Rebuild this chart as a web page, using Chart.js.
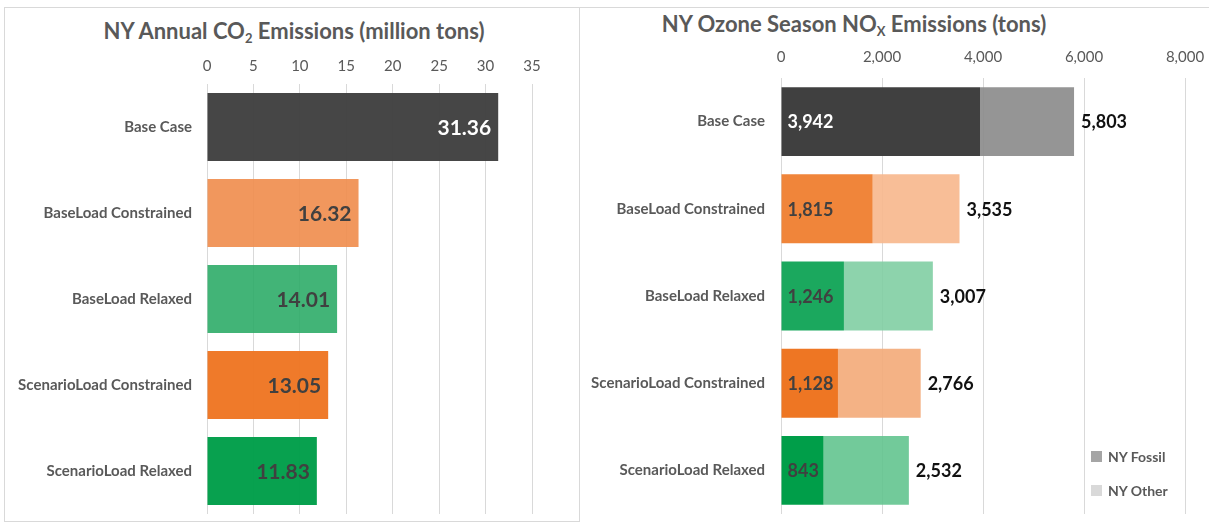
<!DOCTYPE html>
<html>
<head>
<meta charset="utf-8">
<script src="https://cdn.jsdelivr.net/npm/chart.js@4.4.0/dist/chart.umd.min.js"></script>
<style>
  html, body { margin: 0; padding: 0; background: #fff; }
  body { width: 1209px; height: 527px; position: relative; overflow: hidden; font-family: Lato, "Open Sans", sans-serif; }
  .panel-left { position: absolute; left: 4px; top: 7px; width: 576px; height: 515px; border: 1px solid #d9d9d9; box-sizing: border-box; }
  .panel-right { position: absolute; left: 580px; top: 7px; width: 640px; height: 1px; background: #d9d9d9; }
  .title { position: absolute; font-weight: bold; font-size: 22px; color: #595959; white-space: nowrap; transform: translateX(-50%); }
  .title sub { font-size: 13px; vertical-align: -4px; line-height: 0; }
  canvas { position: absolute; top: 0; }
  .legend { position: absolute; left: 1091px; top: 439px; font-size: 14px; font-weight: bold; color: #595959; }
  .legend div { height: 34px; display: flex; align-items: center; }
  .legend span.sw { display: inline-block; width: 11px; height: 11px; margin-right: 6px; }
</style>
</head>
<body>
<div class="panel-left"></div>
<div class="panel-right"></div>
<div class="title" style="left:294px; top:17px;">NY Annual CO<sub>2</sub> Emissions (million tons)</div>
<div class="title" style="left:854px; top:10px;">NY Ozone Season NO<sub>X</sub> Emissions (tons)</div>
<canvas id="co2Chart" width="580" height="527" style="left:0;"></canvas>
<canvas id="noxChart" width="629" height="527" style="left:580px;"></canvas>
<div class="legend">
  <div><span class="sw" style="background:#a5a5a5"></span>NY Fossil</div>
  <div><span class="sw" style="background:#d9d9d9"></span>NY Other</div>
</div>
<script>
// Data
const categories = ["Base Case", "BaseLoad Constrained", "BaseLoad Relaxed", "ScenarioLoad Constrained", "ScenarioLoad Relaxed"];
const co2Values = [31.36, 16.32, 14.01, 13.05, 11.83];
const co2Max = 35;
const co2Step = 5;
const noxFossil = [3942, 1815, 1246, 1128, 843];
const noxOther = [1861, 1720, 1761, 1638, 1689];
const noxTotal = [5803, 3535, 3007, 2766, 2532];
const noxMax = 8000;
const noxStep = 2000;
const seriesNames = ["NY Fossil", "NY Other"];

// Colours
const co2Colors = ["rgba(64,64,64,0.97)", "rgba(240,140,75,0.9)", "rgba(40,170,100,0.88)", "rgba(238,118,35,0.97)", "rgba(0,158,73,0.97)"];
const co2LabelColors = ["#ffffff", "#404040", "#404040", "#404040", "#404040"];
const fossilColors = ["#404040", "#f0853a", "#1ba85e", "#ee7623", "#009e49"];
const otherColors = ["rgba(140,140,140,0.92)", "rgba(247,183,140,0.9)", "rgba(125,205,160,0.88)", "rgba(243,170,120,0.9)", "rgba(95,195,140,0.88)"];
const fossilLabelColors = ["#ffffff", "#404040", "#404040", "#404040", "#404040"];

const FONT = 'Lato, "Open Sans", sans-serif';
const GRID = "#d9d9d9";
const TEXT = "#595959";

// Value labels
const valueLabels = {
  id: "valueLabels",
  afterDatasetsDraw(chart, args, opts) {
    const ctx = chart.ctx;
    ctx.save();
    ctx.textBaseline = "middle";
    opts.items.forEach(function (item) {
      const meta = chart.getDatasetMeta(item.dataset);
      meta.data.forEach(function (bar, i) {
        ctx.font = item.font;
        ctx.fillStyle = Array.isArray(item.color) ? item.color[i] : item.color;
        ctx.textAlign = item.align;
        const x = item.atBase ? bar.base + item.offset : bar.x + item.offset;
        ctx.fillText(item.text(i), x, bar.y + 1);
      });
    });
    ctx.restore();
  }
};

function fmt(n) {
  return n.toLocaleString("en-US");
}

// fixed axis sizes, no extra edge padding from tick labels
function fixX(axis) {
  axis.height = 44;
  axis.paddingLeft = 0;
  axis.paddingRight = 0;
}
function fixY(width) {
  return function (axis) {
    axis.width = width;
    axis.paddingTop = 0;
    axis.paddingBottom = 0;
  };
}

// CO2 chart
new Chart(document.getElementById("co2Chart"), {
  type: "bar",
  data: {
    labels: categories,
    datasets: [{
      data: co2Values,
      backgroundColor: co2Colors,
      categoryPercentage: 1,
      barPercentage: 0.79
    }]
  },
  options: {
    indexAxis: "y",
    responsive: false,
    animation: false,
    layout: { padding: { top: 40, right: 48, bottom: 13, left: 0 } },
    plugins: {
      legend: { display: false },
      tooltip: { enabled: false },
      valueLabels: {
        items: [{
          dataset: 0, align: "right", offset: -7, atBase: false,
          font: "bold 21px " + FONT, color: co2LabelColors,
          text: function (i) { return co2Values[i].toFixed(2); }
        }]
      }
    },
    scales: {
      x: {
        position: "top",
        min: 0,
        max: co2Max,
        ticks: { stepSize: co2Step, color: TEXT, font: { family: FONT, size: 15 }, padding: 9 },
        grid: { color: GRID, drawTicks: false },
        border: { display: false },
        afterFit: fixX
      },
      y: {
        ticks: { color: TEXT, font: { family: FONT, size: 15, weight: "bold" }, padding: 15 },
        grid: { display: false, drawTicks: false },
        border: { display: false },
        afterFit: fixY(207)
      }
    }
  },
  plugins: [valueLabels]
});

// NOx chart
new Chart(document.getElementById("noxChart"), {
  type: "bar",
  data: {
    labels: categories,
    datasets: [{
      label: seriesNames[0],
      data: noxFossil,
      backgroundColor: fossilColors,
      categoryPercentage: 1,
      barPercentage: 0.79
    }, {
      label: seriesNames[1],
      data: noxOther,
      backgroundColor: otherColors,
      categoryPercentage: 1,
      barPercentage: 0.79
    }]
  },
  options: {
    indexAxis: "y",
    responsive: false,
    animation: false,
    layout: { padding: { top: 34, right: 24, bottom: 13, left: 0 } },
    plugins: {
      legend: { display: false },
      tooltip: { enabled: false },
      valueLabels: {
        items: [{
          dataset: 0, align: "left", offset: 6, atBase: true,
          font: "bold 18px " + FONT, color: fossilLabelColors,
          text: function (i) { return fmt(noxFossil[i]); }
        }, {
          dataset: 1, align: "left", offset: 7, atBase: false,
          font: "bold 18px " + FONT, color: "#111111",
          text: function (i) { return fmt(noxTotal[i]); }
        }]
      }
    },
    scales: {
      x: {
        position: "top",
        stacked: true,
        min: 0,
        max: noxMax,
        ticks: { stepSize: noxStep, color: TEXT, font: { family: FONT, size: 15 }, padding: 12,
          callback: function (v) { return fmt(v); } },
        grid: { color: GRID, drawTicks: false },
        border: { display: false },
        afterFit: fixX
      },
      y: {
        stacked: true,
        ticks: { color: TEXT, font: { family: FONT, size: 15, weight: "bold" }, padding: 16 },
        grid: { display: false, drawTicks: false },
        border: { display: false },
        afterFit: fixY(201)
      }
    }
  },
  plugins: [valueLabels]
});
</script>
</body>
</html>
